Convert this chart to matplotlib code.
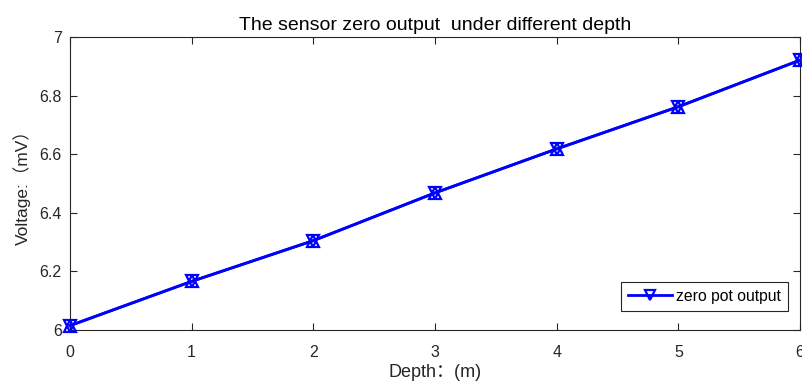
import matplotlib
matplotlib.use('Agg')
import matplotlib.pyplot as plt

plt.rcParams['font.family'] = ['Liberation Sans', 'Noto Sans CJK SC', 'DejaVu Sans']

# --- Data ---
depth = [0, 1, 2, 3, 4, 5, 6]
voltage = [6.015, 6.166, 6.305, 6.468, 6.618, 6.762, 6.921]
xticks = [0, 1, 2, 3, 4, 5, 6]
yticks = [6, 6.2, 6.4, 6.6, 6.8, 7]
ytick_labels = ['6', '6.2', '6.4', '6.6', '6.8', '7']

fig = plt.figure(figsize=(8.03, 3.87), dpi=100)
ax = fig.add_axes([70 / 803, 1 - 330 / 387, 730 / 803, 293 / 387])

# overlapping up/down triangles as in the original
ax.plot(depth, voltage, color='#0000ff', linewidth=2, marker='^', markersize=9,
        markerfacecolor='none', markeredgewidth=1.6, clip_on=False, zorder=3)
ax.plot(depth, voltage, color='#0000ff', linewidth=2, marker='v', markersize=9,
        markerfacecolor='none', markeredgewidth=1.6, clip_on=False, zorder=4,
        label='zero pot output')

ax.set_xlim(0, 6)
ax.set_ylim(6, 7)
ax.set_xticks(xticks)
ax.set_yticks(yticks)
ax.set_yticklabels(ytick_labels)
ax.tick_params(direction='in', top=True, right=True, length=5, width=0.8,
               colors='#262626', labelsize=11.5)
ax.tick_params(axis='x', pad=11)
ax.tick_params(axis='y', pad=6)
for s in ax.spines.values():
    s.set_color('#262626')
    s.set_linewidth(0.8)

ax.set_title('The sensor zero output  under different depth', fontsize=14,
             color='#000000', pad=5)
ax.set_xlabel('Depth：(m)', fontsize=13, color='#262626', labelpad=3)
ax.set_ylabel('Voltage:（mV）', fontsize=12.5, color='#262626', labelpad=6)

leg = ax.legend(loc='lower right', bbox_to_anchor=(0.9835, 0.065), fontsize=11.3,
                frameon=True, fancybox=False, framealpha=1, edgecolor='#262626',
                handlelength=2.8, borderpad=0.45, handletextpad=0.25,
                borderaxespad=0, markerscale=0.8)
leg.get_frame().set_linewidth(0.8)

plt.savefig('out.png', dpi=100)
